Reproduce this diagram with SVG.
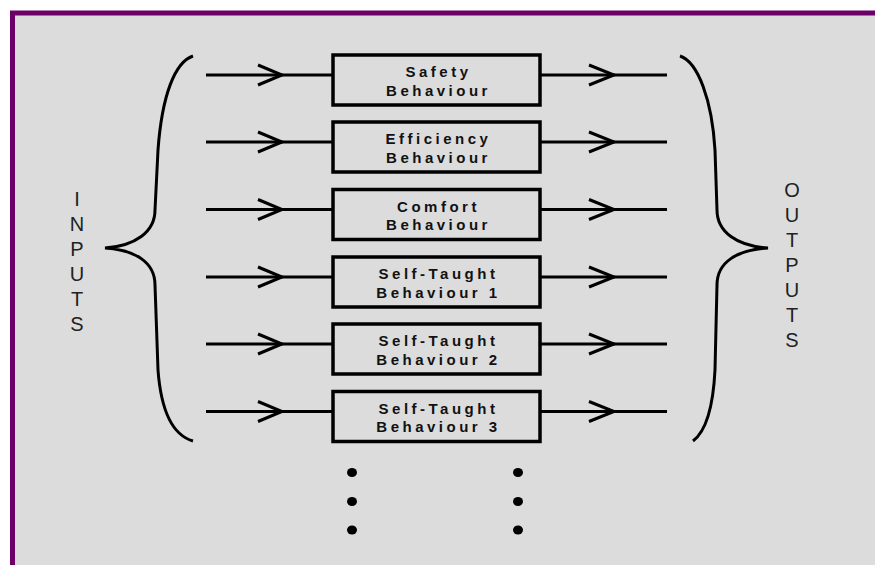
<svg xmlns="http://www.w3.org/2000/svg" width="875" height="565" viewBox="0 0 875 565">
<style>
.ln{stroke:#000;stroke-width:3;fill:none}
.ch{stroke:#000;stroke-width:3;fill:none;stroke-linejoin:miter}
.bx{fill:none;stroke:#000;stroke-width:3.5}
.bt{font-family:"Liberation Sans",Arial,sans-serif;font-weight:bold;font-size:15px;letter-spacing:3.5px;fill:#111;text-anchor:middle}
.lt{font-family:"Liberation Sans",Arial,sans-serif;font-size:20px;fill:#222;text-anchor:middle}
.br{stroke:#000;stroke-width:3;fill:none}
</style>
<rect x="0" y="0" width="875" height="565" fill="#fff"/>
<rect x="12.5" y="13" width="900" height="600" fill="#dcdcdc" stroke="#6d0068" stroke-width="5"/>
<g id="connectors">
<g id="row1"><line class="ln" x1="206" y1="75" x2="333" y2="75" stroke-width="4"/><polyline class="ch" points="258,65 282,75 258,85"/><line class="ln" x1="540" y1="75" x2="667" y2="75" stroke-width="4"/><polyline class="ch" points="589,65 614,75 589,85"/></g>
<g id="row2"><line class="ln" x1="206" y1="142" x2="333" y2="142"/><polyline class="ch" points="258,132 282,142 258,152"/><line class="ln" x1="540" y1="142" x2="667" y2="142"/><polyline class="ch" points="589,132 614,142 589,152"/></g>
<g id="row3"><line class="ln" x1="206" y1="209.5" x2="333" y2="209.5"/><polyline class="ch" points="258,199.5 282,209.5 258,219.5"/><line class="ln" x1="540" y1="209.5" x2="667" y2="209.5"/><polyline class="ch" points="589,199.5 614,209.5 589,219.5"/></g>
<g id="row4"><line class="ln" x1="206" y1="277" x2="333" y2="277"/><polyline class="ch" points="258,267 282,277 258,287"/><line class="ln" x1="540" y1="277" x2="667" y2="277"/><polyline class="ch" points="589,267 614,277 589,287"/></g>
<g id="row5"><line class="ln" x1="206" y1="344" x2="333" y2="344"/><polyline class="ch" points="258,334 282,344 258,354"/><line class="ln" x1="540" y1="344" x2="667" y2="344"/><polyline class="ch" points="589,334 614,344 589,354"/></g>
<g id="row6"><line class="ln" x1="206" y1="411.5" x2="333" y2="411.5"/><polyline class="ch" points="258,401.5 282,411.5 258,421.5"/><line class="ln" x1="540" y1="411.5" x2="667" y2="411.5"/><polyline class="ch" points="589,401.5 614,411.5 589,421.5"/></g>
</g>
<g id="node-safety"><rect class="bx" x="333" y="55" width="207" height="50"/><text class="bt" x="438.5" y="77">Safety</text><text class="bt" x="438.5" y="95.5">Behaviour</text></g>
<g id="node-efficiency"><rect class="bx" x="333" y="122" width="207" height="50"/><text class="bt" x="438.5" y="144">Efficiency</text><text class="bt" x="438.5" y="162.5">Behaviour</text></g>
<g id="node-comfort"><rect class="bx" x="333" y="189.5" width="207" height="50"/><text class="bt" x="438.5" y="211.5">Comfort</text><text class="bt" x="438.5" y="230">Behaviour</text></g>
<g id="node-self1"><rect class="bx" x="333" y="257" width="207" height="50"/><text class="bt" x="438.5" y="279">Self-Taught</text><text class="bt" x="438.5" y="297.5">Behaviour 1</text></g>
<g id="node-self2"><rect class="bx" x="333" y="324" width="207" height="50"/><text class="bt" x="438.5" y="346">Self-Taught</text><text class="bt" x="438.5" y="364.5">Behaviour 2</text></g>
<g id="node-self3"><rect class="bx" x="333" y="391.5" width="207" height="50"/><text class="bt" x="438.5" y="413.5">Self-Taught</text><text class="bt" x="438.5" y="432">Behaviour 3</text></g>
<g id="inputs">
<path class="br" d="M193,56 C175,62 162,95 158,150 L155,210 C155,232 135,246 105,248 C135,250 155,262 155,285 L158,370 C161,410 172,435 193,441"/>
<text class="lt" x="77" y="206">I</text><text class="lt" x="77" y="231">N</text><text class="lt" x="77" y="256">P</text><text class="lt" x="77" y="281">U</text><text class="lt" x="77" y="306">T</text><text class="lt" x="77" y="331">S</text>
</g>
<g id="outputs">
<path class="br" d="M680,56 C698,62 712,100 715,150 L717,210 C717,232 737,246 768,248 C737,250 717,262 717,285 L715,370 C713,410 705,432 693,441"/>
<text class="lt" x="792" y="197">O</text><text class="lt" x="792" y="222">U</text><text class="lt" x="792" y="247">T</text><text class="lt" x="792" y="272">P</text><text class="lt" x="792" y="297">U</text><text class="lt" x="792" y="322">T</text><text class="lt" x="792" y="347">S</text>
</g>
<g id="dots" fill="#000">
<ellipse cx="352" cy="472.5" rx="5" ry="4.5"/><ellipse cx="352" cy="501.5" rx="5" ry="4.5"/><ellipse cx="352" cy="530" rx="5" ry="4.5"/>
<ellipse cx="518" cy="472.5" rx="5" ry="4.5"/><ellipse cx="518" cy="501.5" rx="5" ry="4.5"/><ellipse cx="518" cy="530" rx="5" ry="4.5"/>
</g>
</svg>
